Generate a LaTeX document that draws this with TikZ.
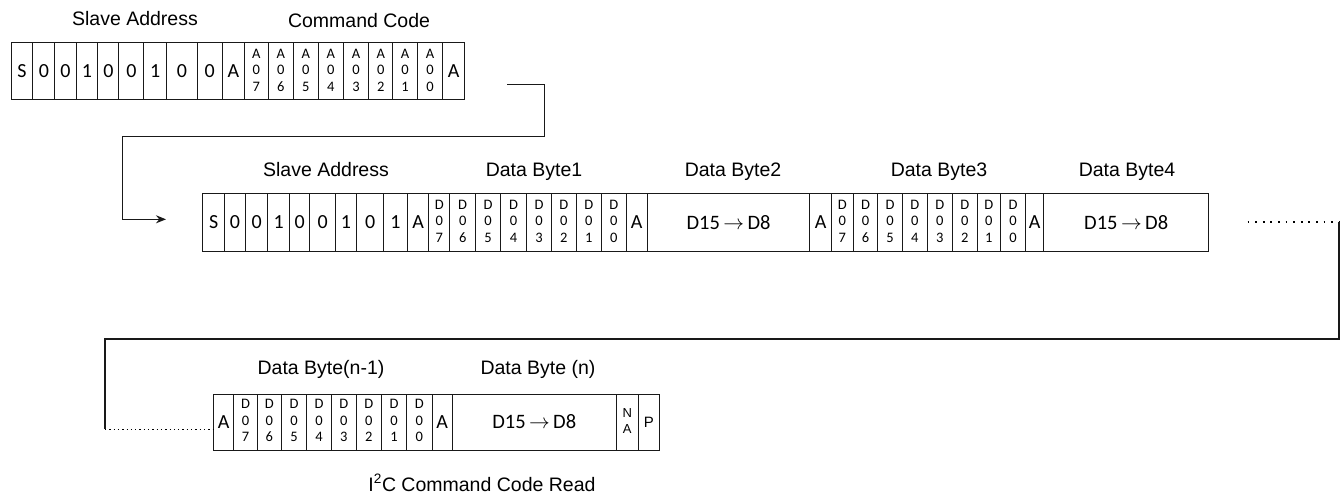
\documentclass[tikz,border=0pt]{standalone}
\usepackage{fontspec}
\setmainfont{Liberation Sans}
\newfontfamily\calib{Carlito}
\usetikzlibrary{arrows.meta}
\newcommand\stk[3]{\begin{tabular}{@{}c@{}}#1\\#2\\#3\end{tabular}}
\newcommand\stktwo[2]{\begin{tabular}{@{}c@{}}#1\\#2\end{tabular}}
\newcommand\dd{D15\,$\rightarrow$\,D8}
\newcommand\cellrow[4]{%
  \foreach \xa/\xb/\fs/\txt [count=\ci] in {#4}{%
    \pgfmathsetmacro\cw{\xb-\xa}%
    \node[cellbox,font=\calib\fontsize{\fs}{16.5}\selectfont,minimum width=\cw pt,minimum height=#3pt,anchor=north west] (#1\ci) at (\xa,#2) {\txt};}}
\tikzset{
  cellbox/.style={draw=black!90,line width=1.1pt,inner sep=0pt},
  lab/.style={anchor=base,inner sep=0pt,font=\fontsize{19.5}{23}\selectfont},
  conn/.style={draw=black!90,line width=1.2pt},
  dotA/.style={line width=1.8pt,dash pattern=on 1.8pt off 5.8pt},
  dotB/.style={line width=1.3pt,dash pattern=on 1.3pt off 3pt}
}
\begin{document}
\begin{tikzpicture}[x=1pt,y=-1pt]
\useasboundingbox (0,0) rectangle (1340,499);
% row 1
\cellrow{a}{42.3}{56.7}{10.7/32.3/20/S, 32.3/54.3/20/0, 54.3/75.7/20/0, 75.7/97.3/20/1, 97.3/118.3/20/0, 118.3/143.3/20/0, 143.3/166/20/1, 166/196.7/20/0, 196.7/221.7/20/0, 221.7/244/20/A, 244/267.7/14.5/{\stk A07}, 267.7/292.7/14.5/{\stk A06}, 292.7/317.7/14.5/{\stk A05}, 317.7/342.7/14.5/{\stk A04}, 342.7/368.3/14.5/{\stk A03}, 368.3/392.3/14.5/{\stk A02}, 392.3/416.7/14.5/{\stk A01}, 416.7/442.3/14.5/{\stk A00}, 442.3/464/20/A}
% row 2
\cellrow{b}{192.7}{58}{202.3/224/20/S, 224/245/20/0, 245/267.3/20/0, 267.3/289/20/1, 289/309.3/20/0, 309.3/335/20/0, 335/356/20/1, 356/383.3/20/0, 383.3/406.7/20/1, 406.7/428.3/20/A, 428.3/449.3/14.5/{\stk D07}, 449.3/475/14.5/{\stk D06}, 475/500/14.5/{\stk D05}, 500/526/14.5/{\stk D04}, 526/551/14.5/{\stk D03}, 551/575.7/14.5/{\stk D02}, 575.7/601/14.5/{\stk D01}, 601/625.7/14.5/{\stk D00}, 625.7/646.7/20/A, 646.7/809.3/20.5/{\dd}, 809.3/831/20/A, 831/852.5/14.5/{\stk D07}, 852.5/877.3/14.5/{\stk D06}, 877.3/901.7/14.5/{\stk D05}, 901.7/926.7/14.5/{\stk D04}, 926.7/951.7/14.5/{\stk D03}, 951.7/976.7/14.5/{\stk D02}, 976.7/1000/14.5/{\stk D01}, 1000/1025/14.5/{\stk D00}, 1025/1043.3/20/A, 1043.3/1208/20.5/{\dd}}
% row 3
\cellrow{c}{393.5}{56}{212.7/233.3/20/A, 233.3/256.7/14.5/{\stk D07}, 256.7/281/14.5/{\stk D06}, 281/306/14.5/{\stk D05}, 306/331/14.5/{\stk D04}, 331/355.7/14.5/{\stk D03}, 355.7/381/14.5/{\stk D02}, 381/406/14.5/{\stk D01}, 406/431.7/14.5/{\stk D00}, 431.7/451.7/20/A, 451.7/615.7/20.5/{\dd}, 615.7/637.7/13/{\rmfamily\stktwo NA}, 637.7/659/15/{\rmfamily P}}
% labels
\node[lab] (l1) at (135,25.5) {Slave Address};
\node[lab] (l2) at (359,27) {Command Code};
\node[lab] (l3) at (326,176) {Slave Address};
\node[lab] (l4) at (534,176) {Data Byte1};
\node[lab] (l5) at (733,176) {Data Byte2};
\node[lab] (l6) at (939,176) {Data Byte3};
\node[lab] (l7) at (1127,176) {Data Byte4};
\node[lab] (l8) at (321,374) {Data Byte(n-1)};
\node[lab] (l9) at (538,374) {Data Byte (n)};
\node[lab] (cap) at (482,491) {I\textsuperscript{2}C Command Code Read};
% connectors
\coordinate (r1out) at (507,84.6);
\coordinate (r2in) at (166,219.3);
\draw[conn,-{Stealth[length=10pt,width=8pt]}] (r1out) -- (544.6,84.6) -- (544.6,136.4) -- (122.3,136.4) -- (122.3,219.3) -- (r2in);
\coordinate (dA) at (1247.6,221.8);
\coordinate (dB) at (1339,221.8);
\coordinate (dC) at (105,429.3);
\draw[dotA] (dA) -- (dB);
\draw[conn] (dB) -- (1339,338.9) -- (105,338.9) -- (dC);
\draw[dotB] (dC) -- (c1.west |- dC);
\end{tikzpicture}
\end{document}
